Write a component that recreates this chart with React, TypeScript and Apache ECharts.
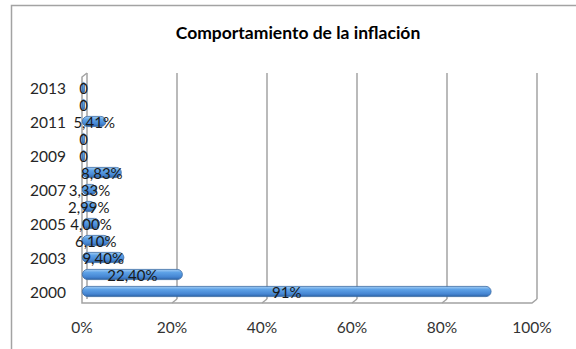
import React, { useEffect, useRef } from "react";
import * as echarts from "echarts";

const years = ["2000", "2002", "2003", "2004", "2005", "2006", "2007", "2008", "2009", "2010", "2011", "2012", "2013"];
const inflation = [91, 22.4, 9.4, 6.1, 4.0, 2.99, 3.33, 8.83, 0, 0, 5.41, 0, 0];
const labelDecimals = [0, 2, 2, 2, 2, 2, 2, 2, 0, 0, 2, 0, 0];
const xMin = 0;
const xMax = 100;
const xStep = 20;
const title = "Comportamiento de la inflación";

const FONT = "Lato, 'Open Sans', sans-serif";

function fmt(v: number, i: number): string {
  if (v === 0) return "0";
  return v.toFixed(labelDecimals[i]).replace(".", ",") + "%";
}

export default function App() {
  const ref = useRef<HTMLDivElement>(null);
  useEffect(() => {
    if (!ref.current) return;
    const chart = echarts.init(ref.current, null, { renderer: "svg" });
    const backL = 87, backR = 537, backTop = 73, backBot = 299;
    const frontL = 82, frontR = 532, frontBot = 303;
    const gray = "#a3a3a3";
    const stubs: any[] = [];
    for (let t = xMin + xStep; t < xMax; t += xStep) {
      const bx = backL + ((backR - backL) * (t - xMin)) / (xMax - xMin);
      const fx = frontL + ((frontR - frontL) * (t - xMin)) / (xMax - xMin);
      stubs.push({
        type: "line",
        shape: { x1: bx, y1: backBot, x2: fx, y2: frontBot },
        style: { stroke: gray, lineWidth: 1.5 },
        z: 1,
      });
    }
    chart.setOption({
      animation: false,
      backgroundColor: "#ffffff",
      graphic: [
        {
          type: "rect",
          shape: { x: 11.5, y: 5.5, width: 700, height: 500 },
          style: { fill: "none", stroke: gray, lineWidth: 1.5 },
          silent: true,
        },
        {
          type: "text",
          x: 298,
          y: 32,
          style: {
            text: title,
            textAlign: "center",
            textVerticalAlign: "middle",
            fontFamily: FONT,
            fontWeight: "bold",
            fontSize: 17.5,
            fill: "#000000",
          },
        },
        {
          type: "polyline",
          shape: {
            points: [
              [backL, backTop],
              [frontL, backTop + 4],
              [frontL, frontBot],
              [frontR, frontBot],
              [backR, backBot],
            ],
          },
          style: { stroke: gray, lineWidth: 1.5, fill: "none" },
          z: 1,
        },
        ...stubs,
      ],
      grid: [
        { left: backL, right: 576 - backR, top: backTop, bottom: 349 - backBot },
        { left: frontL, right: 576 - frontR, top: 79, bottom: 49 },
      ],
      xAxis: [
        {
          gridIndex: 0,
          type: "value",
          min: xMin,
          max: xMax,
          interval: xStep,
          axisLine: { show: false },
          axisTick: { show: false },
          axisLabel: { show: false },
          splitLine: { show: true, lineStyle: { color: gray, width: 1.5 } },
        },
        {
          gridIndex: 1,
          type: "value",
          min: xMin,
          max: xMax,
          interval: xStep,
          axisLine: { show: false },
          axisTick: { show: false },
          splitLine: { show: false },
          axisLabel: {
            formatter: "{value}%",
            margin: 19,
            fontFamily: FONT,
            fontSize: 15.5,
            color: "#333333",
          },
        },
      ],
      yAxis: [
        {
          gridIndex: 0,
          type: "category",
          data: years,
          show: false,
        },
        {
          gridIndex: 1,
          type: "category",
          data: years,
          axisLine: { show: false },
          axisTick: { show: false },
          axisLabel: {
            interval: 1,
            margin: 16,
            fontFamily: FONT,
            fontSize: 15.5,
            color: "#262626",
          },
        },
      ],
      series: [
        {
          type: "bar",
          xAxisIndex: 1,
          yAxisIndex: 1,
          data: inflation,
          barWidth: 11,
          barMinHeight: 3,
          z: 3,
          itemStyle: {
            borderRadius: 5.5,
            borderColor: "#3a6aa3",
            borderWidth: 0.8,
            color: new echarts.graphic.LinearGradient(0, 0, 0, 1, [
              { offset: 0, color: "#a3cdf4" },
              { offset: 0.3, color: "#5e a2e7".replace(" ", "") },
              { offset: 0.75, color: "#4585d2" },
              { offset: 1, color: "#2b61a3" },
            ]),
          },
          label: {
            show: true,
            position: "inside",
            formatter: (p: any) => fmt(p.value, p.dataIndex),
            fontFamily: FONT,
            fontSize: 15,
            color: "#1a1a1a",
          },
        },
      ],
    });
    return () => chart.dispose();
  }, []);
  return (
    <div
      ref={ref}
      style={{ position: "fixed", left: 0, top: 0, width: 576, height: 349 }}
    />
  );
}
